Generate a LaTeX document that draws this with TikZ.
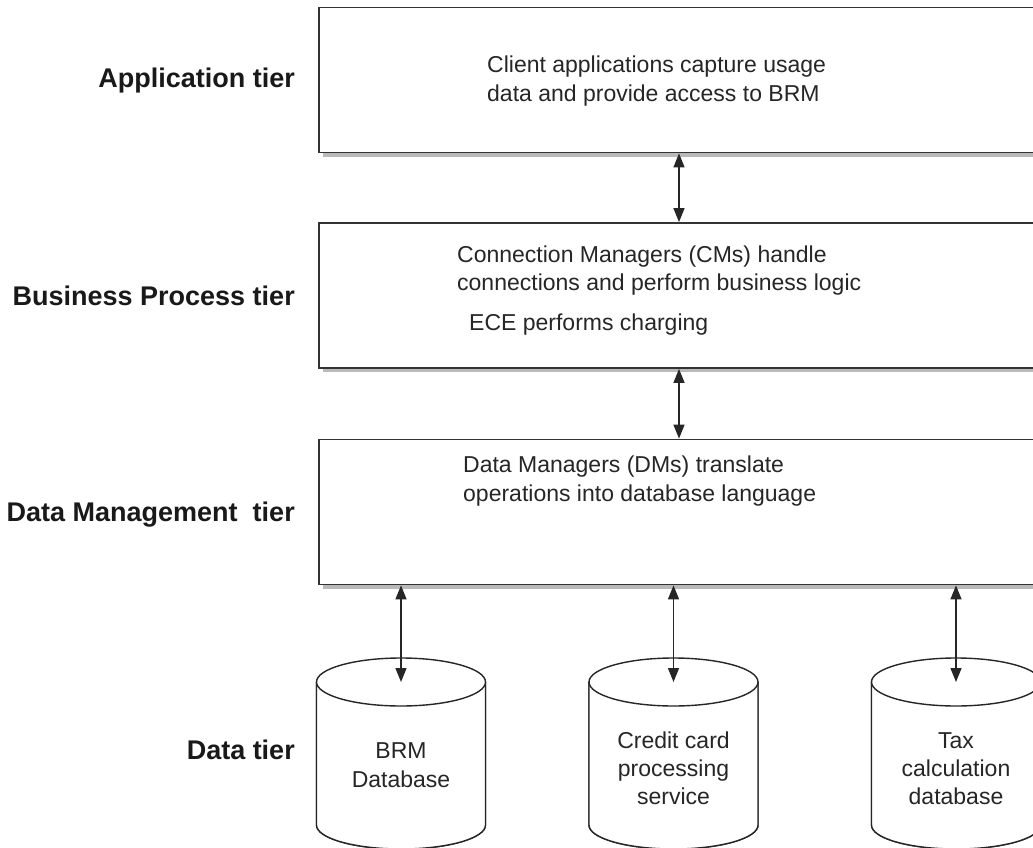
\documentclass[tikz,border=0pt]{standalone}
\usepackage{fontspec}
\setmainfont{Liberation Sans}
\usetikzlibrary{arrows.meta,shadows}
\begin{document}
\begin{tikzpicture}[x=1pt,y=-1pt,
  tierbox/.style={draw=black!80, line width=1.8pt, fill=white, minimum width=726pt, minimum height=145pt, inner sep=0pt,
     drop shadow={shadow xshift=4pt, shadow yshift=-4pt, fill=black!45, opacity=0.6}},
  bodytxt/.style={font=\fontsize{23}{28}\selectfont, text=black!85, inner sep=0pt, anchor=base west},
  cyltxt/.style={font=\fontsize{23}{28}\selectfont, text=black!85, inner sep=0pt, anchor=base},
  tierlbl/.style={font=\fontsize{27}{32}\selectfont\bfseries, text=black!90, inner sep=0pt, anchor=base east},
  cyl/.style={draw=black!85, line width=1.4pt, fill=white},
  arr/.style={draw=black!85, line width=1.4pt, {Triangle[length=14pt,width=11pt]}-{Triangle[length=14pt,width=11pt]}}]
\useasboundingbox (0,0) rectangle (1033,848);
\clip (0,0) rectangle (1033,848);

% tier boxes
\node[tierbox] (app) at (682,80) {};
\node[tierbox] (bp) at (682,295.5) {};
\node[tierbox] (dm) at (682,512) {};

% tier labels
\node[tierlbl] (l1) at (295,88) {Application tier};
\node[tierlbl] (l2) at (295,305) {Business Process tier};
\node[tierlbl] (l3) at (295,521) {Data Management\ \ tier};
\node[tierlbl] (l4) at (295,759) {Data tier};

% box texts
\node[bodytxt] (t1a) at (487,73) {Client applications capture usage};
\node[bodytxt] (t1b) at (487,102) {data and provide access to BRM};
\node[bodytxt] (t2a) at (457,262) {Connection Managers (CMs) handle};
\node[bodytxt] (t2b) at (457,290) {connections and perform business logic};
\node[bodytxt] (t2c) at (469,330) {ECE performs charging};
\node[bodytxt] (t3a) at (463,472) {Data Managers (DMs) translate};
\node[bodytxt] (t3b) at (463,501) {operations into database language};

% cylinders
\foreach \cx/\nm in {401/brm, 673.5/cc, 956/tax}{
  \path[cyl] (\cx-84.5,682) -- (\cx-84.5,825) arc[start angle=180, end angle=0, x radius=84.5, y radius=24] -- (\cx+84.5,682) -- cycle;
  \draw[cyl] (\cx-84.5,682) -- (\cx-84.5,825) arc[start angle=180, end angle=0, x radius=84.5, y radius=24] -- (\cx+84.5,682);
  \draw[cyl] (\cx,682) ellipse[x radius=84.5, y radius=24];
  \coordinate (\nm) at (\cx,682);
}

\node[cyltxt] (c1a) at (401,758) {BRM};
\node[cyltxt] (c1b) at (401,787) {Database};
\node[cyltxt] (c2a) at (673.5,748) {Credit card};
\node[cyltxt] (c2b) at (673.5,776) {processing};
\node[cyltxt] (c2c) at (673.5,804) {service};
\node[cyltxt] (c3a) at (956,748) {Tax};
\node[cyltxt] (c3b) at (956,776) {calculation};
\node[cyltxt] (c3c) at (956,804) {database};

% connectors
\coordinate (ax) at (679,0);
\draw[arr] (app.south -| ax) -- (bp.north -| ax);
\draw[arr] (bp.south -| ax) -- (dm.north -| ax);
\draw[arr] (dm.south -| brm) -- (brm);
\draw[arr] (dm.south -| cc) -- (cc);
\draw[arr] (dm.south -| tax) -- (tax);
\end{tikzpicture}
\end{document}
